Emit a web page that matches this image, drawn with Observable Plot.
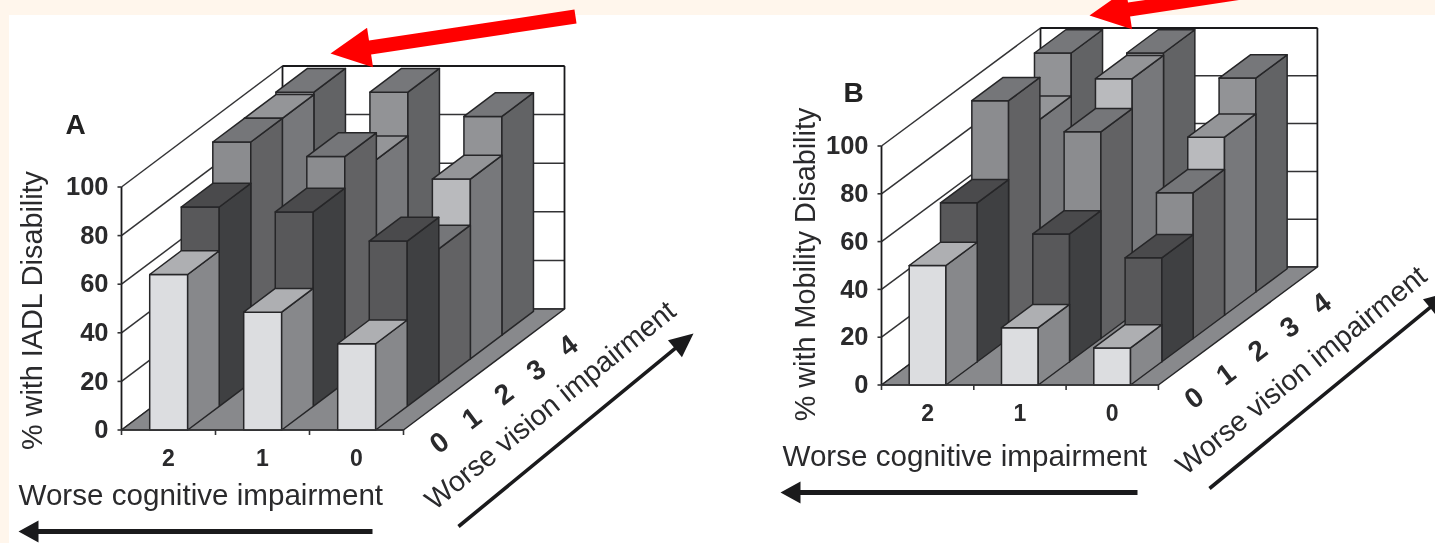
<!DOCTYPE html>
<html>
<head>
<meta charset="utf-8">
<script src="https://cdn.jsdelivr.net/npm/d3@7"></script>
<script src="https://cdn.jsdelivr.net/npm/@observablehq/plot@0.6"></script>
<style>
html,body{margin:0;padding:0;background:#fff6ec;width:1435px;height:543px;overflow:hidden}
#sheet{position:absolute;left:9px;top:15px;right:0;bottom:0;width:1426px;height:528px;background:#fff}
#chart{position:absolute;left:0;top:0}
#chart svg{display:block;background:transparent;filter:blur(.55px)}
</style>
</head>
<body>
<div id="sheet"></div>
<div id="chart"></div>
<script>
// Values: one array per cognitive-impairment column, ordered by vision impairment 0..4
const cognitiveLabels = ["2", "1", "0"];
const visionLabels = ["0", "1", "2", "3", "4"];
const percentTicks = [0, 20, 40, 60, 80, 100];

const iadlCognitive2 = [64, 82, 99, 99, 100];
const iadlCognitive1 = [48.5, 80, 93, 82, 100];
const iadlCognitive0 = [35.5, 68, 55, 74, 90];

const mobilityCognitive2 = [50, 66.5, 99.5, 82, 100];
const mobilityCognitive1 = [24, 53.5, 86.5, 99, 100];
const mobilityCognitive0 = [15.5, 43.5, 61, 74.5, 89.5];

// Row colours (vision level): front, side, top
const rowFront = ["#dcdde0", "#58585a", "#8b8c8f", "#b9babd", "#929396"];
const rowSide = ["#87888b", "#3f4042", "#626264", "#77787b", "#626365"];
const rowTop = ["#aeafb2", "#4a4a4c", "#757679", "#949598", "#76777a"];

const ink = "#262628", textInk = "#2a2a2c";
const sans = "'Liberation Sans', Arial, sans-serif";

function panelParts(p) {
  const at = (c, r, v) => ({x: p.x0 + c * p.colW + r * p.dx, y: p.y0 + r * p.dy - v * p.unit});
  const nC = cognitiveLabels.length, nR = visionLabels.length;
  const faces = [];
  const addFace = (id, fill, pts) => [...pts, pts[0]].forEach(q => faces.push({id, fill, ...q}));
  addFace(p.key + "floor", "#88898c", [at(0,0,0), at(nC,0,0), at(nC,nR,0), at(0,nR,0)]);
  for (let r = nR - 1; r >= 0; r--) {
    p.columns.forEach((vals, c) => {
      const v = vals[r], u1 = c + p.inset, u2 = u1 + p.barW, d1 = r * p.rowFill, d2 = (r + 1) * p.rowFill;
      const k = `${p.key}-${c}-${r}`;
      addFace(k + "f", rowFront[r], [at(u1,d1,0), at(u2,d1,0), at(u2,d1,v), at(u1,d1,v)]);
      addFace(k + "s", rowSide[r], [at(u2,d1,0), at(u2,d2,0), at(u2,d2,v), at(u2,d1,v)]);
      addFace(k + "t", rowTop[r], [at(u1,d1,v), at(u2,d1,v), at(u2,d2,v), at(u1,d2,v)]);
    });
  }
  const seg = (a, b) => ({x1: a.x, y1: a.y, x2: b.x, y2: b.y});
  const grid = percentTicks.flatMap(t => [
    seg(at(0,0,t), at(0,nR,t)),
    seg(at(0,nR,t), at(nC,nR,t))
  ]);
  const frame = [
    seg(at(0,0,0), at(0,0,100)),
    seg(at(0,nR,0), at(0,nR,100)),
    seg(at(nC,nR,0), at(nC,nR,100)),
    seg(at(0,nR,100), at(nC,nR,100))
  ];
  const ticks = [
    ...percentTicks.map(t => { const a = at(0,0,t); return seg({x: a.x - 4, y: a.y}, a); }),
    ...d3.range(nC + 1).map(c => { const a = at(c,0,0); return seg(a, {x: a.x, y: a.y + 5}); }),
    seg(at(0,0,0), at(nC,0,0))
  ];
  const yLabels = percentTicks.map(t => ({...at(0,0,t), text: String(t)}));
  const xLabels = cognitiveLabels.map((text, c) => ({...at(c + .5,0,0), text}));
  const zLabels = visionLabels.map((text, r) => ({...at(nC,r + .5,0), text}));
  return {faces, grid, frame, ticks, yLabels, xLabels, zLabels};
}

function arrowPolygon(id, fill, t, h, len, half, shaft) {
  const L = Math.hypot(h.x - t.x, h.y - t.y), ux = (h.x - t.x) / L, uy = (h.y - t.y) / L;
  const nx = -uy, ny = ux, bx = h.x - ux * len, by = h.y - uy * len;
  const pts = [
    {x: t.x + nx * shaft, y: t.y + ny * shaft}, {x: bx + nx * shaft, y: by + ny * shaft},
    {x: bx + nx * half, y: by + ny * half}, h,
    {x: bx - nx * half, y: by - ny * half}, {x: bx - nx * shaft, y: by - ny * shaft},
    {x: t.x - nx * shaft, y: t.y - ny * shaft}
  ];
  return [...pts, pts[0]].map(q => ({id, fill, ...q}));
}

const panelA = {key: "A", x0: 121, y0: 429.5, colW: 94, dx: 32.2, dy: -24.2, unit: 2.43, rowFill: .98,
  inset: .3, barW: .404, columns: [iadlCognitive2, iadlCognitive1, iadlCognitive0]};
const panelB = {key: "B", x0: 881, y0: 384.5, colW: 92.3, dx: 31.8, dy: -23.6, unit: 2.39, rowFill: .985,
  inset: .3, barW: .398, columns: [mobilityCognitive2, mobilityCognitive1, mobilityCognitive0]};

function panelMarks(p, o) {
  const d = panelParts(p);
  return [
    Plot.link(d.grid, {x1:"x1", y1:"y1", x2:"x2", y2:"y2", stroke: "#333335", strokeWidth: 1.5}),
    Plot.link(d.frame, {x1:"x1", y1:"y1", x2:"x2", y2:"y2", stroke: "#1a1a1c", strokeWidth: 1.8}),
    Plot.line(d.faces, {x:"x", y:"y", z:"id", fill:"fill", stroke: ink, strokeWidth: 1.5, strokeLinejoin:"round"}),
    Plot.link(d.ticks, {x1:"x1", y1:"y1", x2:"x2", y2:"y2", stroke: "#333335", strokeWidth: 1.6}),
    Plot.text(d.yLabels, {x: q => q.x - 13, y:"y", text:"text", textAnchor:"end", fontSize: 25.5, fontWeight:"bold", fontFamily: sans, fill: textInk}),
    Plot.text(d.xLabels, {x:"x", y: q => q.y + 29, text:"text", fontSize: 23, fontWeight:"bold", fontFamily: sans, fill: textInk}),
    Plot.text(d.zLabels, {x: q => q.x + 20, y: q => q.y + 25, text:"text", rotate: -37, fontSize: 28, fontWeight:"bold", fontFamily: sans, fill: textInk}),
    Plot.text([p.key], {x: [o.letter[0]], y: [o.letter[1]], text: q => q, fontSize: 28, fontWeight:"bold", fontFamily: sans, fill: "#222"}),
    Plot.text([o.yTitle], {x: [o.yTitlePos[0]], y: [o.yTitlePos[1]], text: q => q, rotate: -90, fontSize: 28.8, fontFamily: sans, fill: textInk}),
    Plot.text(["Worse cognitive impairment"], {x: [o.xTitlePos[0]], y: [o.xTitlePos[1]], text: q => q, textAnchor:"start", fontSize: 29.6, fontFamily: sans, fill: textInk}),
    Plot.text(["Worse vision impairment"], {x: [o.zTitlePos[0]], y: [o.zTitlePos[1]], text: q => q, rotate: -39, fontSize: 28.6, fontFamily: sans, fill: textInk})
  ];
}

const arrows = [
  ...arrowPolygon("ka1", "#1a1a1c", {x:372,y:531}, {x:18,y:531}, 20, 11, 2.6),
  ...arrowPolygon("ka2", "#1a1a1c", {x:458,y:526}, {x:693,y:333}, 24, 11, 1.8),
  ...arrowPolygon("kb1", "#1a1a1c", {x:1137,y:492}, {x:780,y:492}, 20, 11, 2.6),
  ...arrowPolygon("kb2", "#1a1a1c", {x:1209,y:488}, {x:1448,y:292}, 24, 11, 1.8),
  ...arrowPolygon("ra", "#ff0000", {x:575,y:16}, {x:330,y:53}, 40, 20, 7),
  ...arrowPolygon("rb", "#ff0000", {x:1334,y:-22}, {x:1089,y:15}, 40, 20, 7)
];

const chart = Plot.plot({
  width: 1435, height: 543,
  margin: 0,
  x: {domain: [0, 1435], range: [0, 1435], axis: null},
  y: {domain: [0, 543], range: [0, 543], axis: null},
  color: {type: "identity"},
  style: {background: "transparent"},
  marks: [
    ...panelMarks(panelA, {letter: [75, 125], yTitle: "% with IADL Disability", yTitlePos: [32, 310], xTitlePos: [18, 495], zTitlePos: [550, 405]}),
    ...panelMarks(panelB, {letter: [853, 93], yTitle: "% with Mobility Disability", yTitlePos: [805, 264], xTitlePos: [782, 456], zTitlePos: [1301, 370]}),
    Plot.line(arrows, {x:"x", y:"y", z:"id", fill:"fill", stroke:"none"})
  ]
});
document.getElementById("chart").append(chart);
</script>
</body>
</html>
